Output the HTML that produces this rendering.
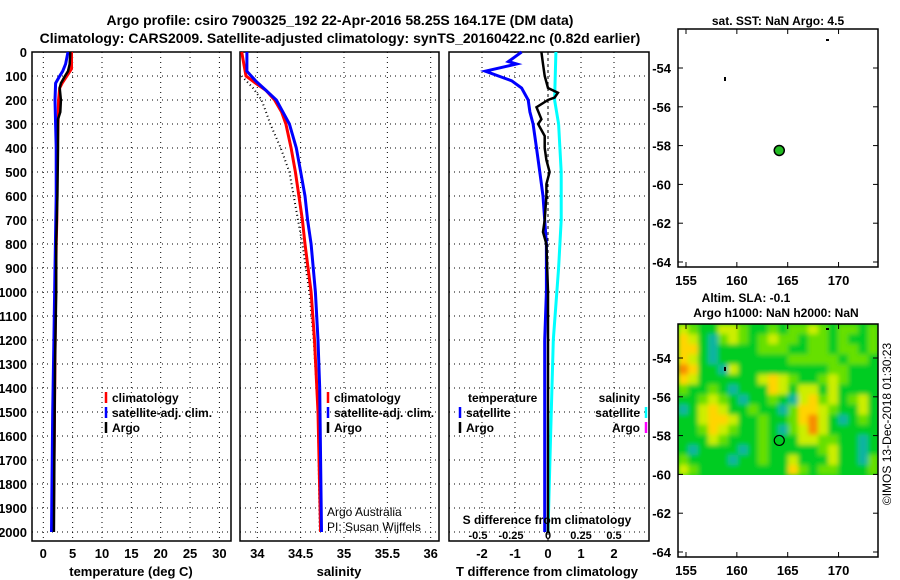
<!DOCTYPE html>
<html><head><meta charset="utf-8"><style>
html,body{margin:0;padding:0;background:#fff;}
svg{display:block;font-family:"Liberation Sans",sans-serif;font-weight:bold;}
</style></head><body>
<svg id="c" width="900" height="580" viewBox="0 0 900 580">
<defs>
<filter id="blur" x="-5%" y="-5%" width="110%" height="110%"><feGaussianBlur stdDeviation="2.5"/></filter>
<clipPath id="slaclip"><rect x="678" y="324" width="200" height="151"/></clipPath>
</defs>
</svg>
<script>
// ---------- data ----------
const tDepth = [0,70,100,130,150,200,300,400,500,700,800,1000,1500,2000];
const tClim  = [4.8,4.8,4.0,3.2,2.8,2.6,2.5,2.4,2.3,2.3,2.2,2.1,1.9,1.7];
const tSatDepth = [0,50,80,100,130,200,300,400,600,900,1200,1500,2000];
const tSat = [4.2,3.8,3.3,2.8,2.1,2.0,2.1,2.2,2.2,2.0,1.8,1.6,1.4];
const tArgoDepth = [0,50,80,100,130,150,200,250,280,400,600,800,1000,1300,1600,2000];
const tArgo = [4.6,4.5,4.2,3.7,3.0,2.8,3.0,2.9,2.5,2.5,2.4,2.2,2.2,2.0,1.9,1.8];
const sDepth = [0,100,130,160,200,250,300,400,500,600,700,800,1000,1200,1500,2000];
const sClim = [33.82,33.87,33.98,34.1,34.2,34.28,34.33,34.39,34.44,34.48,34.52,34.55,34.62,34.66,34.70,34.73];
const sSatDepth = [0,80,120,160,200,300,400,500,600,700,800,1000,1200,1400,2000];
const sSat = [33.88,33.88,33.98,34.1,34.22,34.37,34.45,34.5,34.55,34.58,34.62,34.67,34.7,34.72,34.74];
const sArgoDepth = [100,150,200,250,300,400,500,600,700,800,1000,1200,1500,2000];
const sArgo = [33.82,33.95,34.05,34.1,34.15,34.27,34.37,34.42,34.47,34.52,34.6,34.65,34.7,34.72];
const dtSatDepth = [0,20,40,50,80,100,120,150,200,250,300,400,500,600,700,800,1000,1200,2000];
const dtSat = [-0.8,-1.0,-1.2,-0.95,-1.9,-1.5,-1.1,-0.8,-0.6,-0.55,-0.45,-0.35,-0.25,-0.15,-0.1,-0.05,-0.05,-0.1,-0.1];
const dsSatDepth = [0,200,300,500,700,900,1200,1600,2000];
const dsSat = [0.06,0.05,0.08,0.1,0.1,0.08,0.04,0.02,0.0];
const dArgoDepth = [0,50,100,150,170,190,200,230,280,300,350,400,450,500,550,600,700,750,800,1000,1300,2000];
const dArgo = [-0.2,-0.15,-0.1,0.0,0.3,0.2,0.0,-0.35,-0.2,-0.3,-0.1,-0.1,-0.05,0.05,-0.05,-0.05,-0.1,-0.15,-0.05,0.0,0.0,0.0];
const depthTicks = [0,100,200,300,400,500,600,700,800,900,1000,1100,1200,1300,1400,1500,1600,1700,1800,1900,2000];
const tTicks = [0,5,10,15,20,25,30];
const sTicks = [34,34.5,35,35.5,36];
const sTickLabels = ["34","34.5","35","35.5","36"];
const dTTicks = [-2,-1,0,1,2];
const dSTickLabels = ["-0.5","-0.25","0","0.25","0.5"];
const latTicks = [-54,-56,-58,-60,-62,-64];
const lonTicks = [155,160,165,170];
const slaGrid = [
[3,2,1,1,3,3,2,1,1,2,1,2,2,3,2,1,2,2,1,2],
[4,3,1,0,2,3,2,1,2,3,2,2,1,2,2,1,2,1,1,2],
[4,4,1,0,1,1,1,1,2,2,2,1,1,2,2,1,2,2,1,2],
[4,3,1,0,1,1,1,1,1,1,1,2,2,2,2,2,1,2,2,1],
[5,4,1,1,0,3,1,1,1,1,1,1,1,1,1,2,2,1,1,1],
[4,3,1,1,1,1,1,1,3,4,3,2,1,1,2,3,2,1,1,1],
[2,1,1,2,1,0,1,1,1,4,3,1,3,3,1,3,1,1,1,1],
[1,1,2,3,2,1,0,1,1,2,1,0,3,4,2,3,1,2,3,1],
[0,1,3,4,3,1,1,2,1,1,0,2,4,4,3,2,1,1,3,1],
[1,1,3,4,4,3,1,1,2,1,1,2,4,5,3,1,0,1,2,1],
[1,1,2,4,3,2,1,1,2,1,0,2,3,5,3,1,1,1,1,1],
[1,1,1,3,2,1,1,1,2,1,1,1,3,3,2,2,1,1,0,1],
[1,0,1,1,1,1,0,1,2,1,1,1,1,1,2,3,1,1,0,1],
[2,1,1,1,1,0,1,1,2,1,1,3,1,1,1,3,1,1,0,2],
[3,2,1,1,1,1,1,1,1,1,1,4,2,1,2,2,1,1,1,2]];
const slaColors = ["#10b4a0","#00cc20","#66e000","#ccee00","#ffd400","#f88c00"];
const argoLon = 164.17, argoLat = -58.25;

// ---------- helpers ----------
const svg = document.getElementById('c');
const NS = 'http://www.w3.org/2000/svg';
function mk(tag, attrs, parent){const e=document.createElementNS(NS,tag);for(const k in attrs)e.setAttribute(k,attrs[k]);(parent||svg).appendChild(e);return e;}
function txt(x,y,s,anchor,size,parent){const t=mk('text',{x:x,y:y,'text-anchor':anchor||'middle','font-size':size||13,fill:'#000'},parent);t.textContent=s;return t;}
const Y = d => 52 + d*0.24;
const TOP=52, BOT=541;
const xT = v => 43.3 + v*5.87;
const xS = v => 257.3 + (v-34)*86.7;
const xDT = v => 548 + v*33;
const xDS = v => 548 + v*132;

function panel(x0,x1,name){
  const g=mk('g',{});
  
  
  depthTicks.forEach(d=>{ if(d>0) mk('line',{x1:x0,x2:x1,y1:Y(d),y2:Y(d),stroke:'#000','stroke-width':1,'stroke-dasharray':'1,4'},g);});
  mk('rect',{x:x0,y:TOP,width:x1-x0,height:BOT-TOP,fill:'none',stroke:'#000','stroke-width':1.5},g);
  return g;
}
function vgrid(g,xs){xs.forEach(x=>mk('line',{x1:x,x2:x,y1:TOP,y2:BOT,stroke:'#000','stroke-width':1,'stroke-dasharray':'1,4'},g));}
function line(g,depths,vals,xf,color,w,name,dash){
  const pts=depths.map((d,i)=>xf(vals[i]).toFixed(1)+','+Y(d).toFixed(1)).join(' ');
  const p=mk('polyline',{points:pts,fill:'none',stroke:color,'stroke-width':w},g);
  if(dash)p.setAttribute('stroke-dasharray',dash);
  
  
}

const t1=txt(340,25,'Argo profile: csiro 7900325_192 22-Apr-2016 58.25S 164.17E (DM data)','middle',14);

const t2=txt(340,43,'Climatology: CARS2009. Satellite-adjusted climatology: synTS_20160422.nc (0.82d earlier)','middle',14);


depthTicks.forEach(d=>{txt(27,Y(d)+5,String(d),'end',13);});

// ---- temperature panel ----
const gT=panel(32,231,'temperature-panel');
vgrid(gT,tTicks.map(xT));
line(gT,tDepth,tClim,xT,'#ff0000',3,'temp-climatology-line');
line(gT,tSatDepth,tSat,xT,'#0000ff',3,'temp-satellite-line');
line(gT,tArgoDepth,tArgo,xT,'#000',2.5,'temp-argo-line');
tTicks.forEach(v=>txt(xT(v),558,String(v),'middle',13));
const xl1=txt(131,576,'temperature (deg C)','middle',13);
function legend(x,y,items){
  items.forEach((it,i)=>{
    mk('line',{x1:x,x2:x,y1:y+i*15-10,y2:y+i*15+1,stroke:it[1],'stroke-width':2.5});
    const t=txt(x+6,y+i*15,it[0],'start',12);
    
    
  });
}
legend(106,402,[['climatology','#ff0000'],['satellite-adj. clim.','#0000ff'],['Argo','#000']]);

// ---- salinity panel ----
const gS=panel(240,439,'salinity-panel');
vgrid(gS,sTicks.map(xS));
line(gS,sArgoDepth,sArgo,xS,'#000',2,'salinity-argo-dots','1,3');
line(gS,sDepth,sClim,xS,'#ff0000',3,'salinity-climatology-line');
line(gS,sSatDepth,sSat,xS,'#0000ff',3,'salinity-satellite-line');
sTicks.forEach((v,i)=>txt(xS(v),558,sTickLabels[i],'middle',13));
const xl2=txt(339,576,'salinity','middle',13);
legend(328,402,[['climatology','#ff0000'],['satellite-adj. clim.','#0000ff'],['Argo','#000']]);
const a1=txt(327,516,'Argo Australia','start',12);a1.setAttribute('font-weight','normal');
const a2=txt(327,531,'PI: Susan Wijffels','start',12);a2.setAttribute('font-weight','normal');

// ---- difference panel ----
const gD=panel(449,649,'difference-panel');
vgrid(gD,dTTicks.filter(v=>v!==0).map(xDT));
mk('line',{x1:xDT(0),x2:xDT(0),y1:TOP,y2:BOT,stroke:'#000','stroke-width':1,'stroke-dasharray':'3,3'},gD);
line(gD,dtSatDepth,dtSat,xDT,'#0000ff',3,'t-diff-satellite-line');
line(gD,dsSatDepth,dsSat,xDS,'#00ffff',3,'s-diff-satellite-line');
line(gD,dArgoDepth,dArgo,xDT,'#000',2.5,'t-diff-argo-line');
dTTicks.forEach(v=>txt(xDT(v),558,String(v),'middle',13));
const xl3=txt(547,576,'T difference from climatology','middle',13);
const sdl=txt(547,524,'S difference from climatology','middle',12);
dTTicks.forEach((v,i)=>txt(xDT(v)+(i<2?-4:0),539,dSTickLabels[i],'middle',11));
txt(468,402,'temperature','start',12);
legend(460,417,[['satellite','#0000ff'],['Argo','#000']]);
txt(640,402,'salinity','end',12);
[['satellite','#00ffff'],['Argo','#ff00ff']].forEach((it,i)=>{
  txt(640,417+i*15,it[0],'end',12);
  mk('line',{x1:646,x2:646,y1:407+i*15,y2:418+i*15,stroke:it[1],'stroke-width':2.5});
});

// ---- maps ----
const mx = lon => 686 + (lon-155)*10.17;
function mapFrame(top,bot,lat54y,name){
  const my = lat => lat54y + (-54-lat)*19.4;
  const g=mk('g',{});
  
  
  return {g,my,top,bot};
}
function mapAxes(m){
  mk('rect',{x:678,y:m.top,width:200,height:m.bot-m.top,fill:'none',stroke:'#000','stroke-width':1.5},m.g);
  latTicks.forEach(l=>{const y=m.my(l);mk('line',{x1:678,x2:683,y1:y,y2:y,stroke:'#000'},m.g);mk('line',{x1:873,x2:878,y1:y,y2:y,stroke:'#000'},m.g);txt(671,y+5,String(l),'end',13,m.g);});
  lonTicks.forEach(l=>{const x=mx(l);mk('line',{x1:x,x2:x,y1:m.bot,y2:m.bot-5,stroke:'#000'},m.g);mk('line',{x1:x,x2:x,y1:m.top,y2:m.top+5,stroke:'#000'},m.g);txt(x,m.bot+18,String(l),'middle',13,m.g);});
}
const m1=mapFrame(29,267,68,'sst-map');
mapAxes(m1);
const st=txt(778,25,'sat. SST: NaN Argo: 4.5','middle',12);
mk('rect',{x:826,y:39,width:3,height:2,fill:'#000'},m1.g);
mk('rect',{x:724,y:77,width:2,height:4,fill:'#000'},m1.g);
const d1=mk('circle',{cx:mx(argoLon),cy:m1.my(argoLat),r:5,fill:'#22bb22',stroke:'#000','stroke-width':1.5},m1.g);


const m2=mapFrame(324,557,358,'sla-map');
const clipG=mk('g',{'clip-path':'url(#slaclip)'},m2.g);
mk('rect',{x:678,y:324,width:200,height:151,fill:'#00cc20'},clipG);
const heat=mk('g',{filter:'url(#blur)'},clipG);
const cw=200/20, ch=(475-324)/15;
slaGrid.forEach((row,r)=>row.forEach((v,c)=>{
  const cell=mk('rect',{x:(678+c*cw).toFixed(1),y:(324+r*ch).toFixed(1),width:cw+0.6,height:ch+0.6,fill:slaColors[v]},heat);
  
  
}));
mapAxes(m2);
const s1=txt(746,302,'Altim. SLA: -0.1','middle',12);
txt(776,317,'Argo h1000: NaN h2000: NaN','middle',12);
mk('rect',{x:826,y:328,width:3,height:2,fill:'#000'},m2.g);
mk('rect',{x:724,y:367,width:2,height:4,fill:'#000'},m2.g);
const d2=mk('circle',{cx:mx(argoLon),cy:m2.my(argoLat),r:5,fill:'none',stroke:'#000','stroke-width':1.2},m2.g);

const cp=txt(0,0,'©IMOS 13-Dec-2018 01:30:23','middle',12);
cp.setAttribute('font-weight','normal');
cp.setAttribute('transform','translate(891,424) rotate(-90)');

</script>
</body></html>
